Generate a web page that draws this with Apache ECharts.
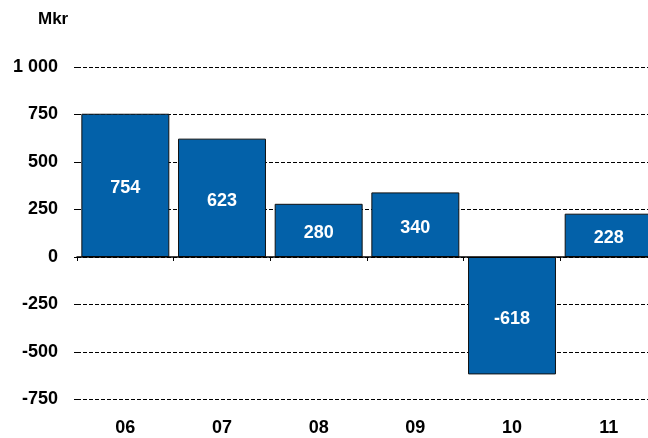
<!DOCTYPE html>
<html><head><meta charset="utf-8">
<script src="https://cdn.jsdelivr.net/npm/echarts@6/dist/echarts.min.js"></script>
<style>html,body{margin:0;padding:0;background:#fff}#c{width:648px;height:438px}</style>
</head><body><div id="c"></div>
<script>
var categories = ['06','07','08','09','10','11'];
var values = [754, 623, 280, 340, -618, 228];
var yMin = -750, yMax = 1000, yStep = 250;
var unitLabel = 'Mkr';

var chart = echarts.init(document.getElementById('c'), null, {renderer:'canvas'});
var font = '"Liberation Sans", Arial, sans-serif';
chart.setOption({
  animation: false,
  backgroundColor: '#fff',
  title: {text: unitLabel, left: 33, top: 6, textStyle: {fontFamily: font, fontWeight: 'bold', fontSize: 17, color: '#000'}},
  grid: {left: 77, width: 580, top: 67, bottom: 38.5, containLabel: false, outerBoundsMode: 'none'},
  xAxis: [{
    type: 'category', data: categories, position: 'bottom',
    axisLine: {onZero: true, lineStyle: {color: '#000', width: 1.5}},
    axisTick: {show: true, length: 4, lineStyle: {color: '#000'}},
    axisLabel: {show: false}, z: 5
  }, {
    type: 'category', data: categories, position: 'bottom',
    axisLine: {show: false, onZero: false}, axisTick: {show: false},
    axisLabel: {margin: 20, fontFamily: font, fontWeight: 'bold', fontSize: 18, color: '#000'}
  }],
  yAxis: {
    type: 'value', min: yMin, max: yMax, interval: yStep,
    axisLine: {show: false},
    axisTick: {show: true, length: 3, lineStyle: {color: '#000'}},
    splitLine: {show: true, lineStyle: {color: '#000', type: [4, 2], width: 1}},
    axisLabel: {margin: 19, fontFamily: font, fontWeight: 'bold', fontSize: 18, color: '#000',
      formatter: function (v) { return String(v).replace(/\B(?=(\d{3})+(?!\d))/g, ' '); }}
  },
  series: [{
    type: 'bar', data: values, xAxisIndex: 0, barCategoryGap: '9%',
    itemStyle: {color: '#0361a9', borderColor: '#111', borderWidth: 1},
    label: {show: true, position: 'inside', offset: [0, 3], color: '#fff', fontFamily: font, fontWeight: 'bold', fontSize: 18}
  }]
});
</script></body></html>
